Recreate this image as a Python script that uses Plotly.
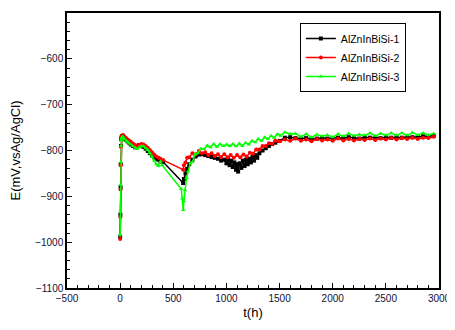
import plotly.graph_objects as go

# ---- data ----
t1 = [0, 2, 4, 6, 8, 10, 14, 18, 24, 30, 40, 55, 70, 85, 100, 120, 140, 160, 180, 200, 220, 240, 260, 280, 300, 320, 340, 360, 380, 405,
      593, 600, 615, 630, 650, 680, 710, 740, 770, 800, 830, 860, 890, 920, 950, 980, 1000, 1015, 1030, 1045, 1060, 1075, 1090, 1100,
      1110, 1125, 1140, 1155, 1170, 1185, 1200, 1215, 1230, 1245, 1260, 1275, 1290, 1310, 1340, 1370, 1400, 1430, 1460, 1500,
      1550, 1600, 1650, 1700, 1750, 1800, 1850, 1900, 1950, 2000, 2050, 2100, 2150, 2200, 2250, 2300, 2350, 2400, 2450, 2500,
      2550, 2600, 2650, 2700, 2750, 2800, 2850, 2900, 2950]
e1 = [-988, -940, -880, -830, -790, -775, -771, -769, -768, -771, -774, -777, -780, -783, -787, -790, -793, -790, -788, -789, -792, -796, -801, -806, -811, -815, -818, -820, -825, -825,
      -871, -862, -850, -840, -830, -820, -813, -809, -808, -810, -812, -814, -816, -818, -822, -820, -828, -818, -832, -822, -836, -826, -842, -830,
      -846, -828, -838, -822, -834, -820, -830, -818, -826, -814, -822, -810, -816, -806, -800, -795, -790, -786, -783, -779,
      -772, -771, -773, -774, -773, -775, -774, -772, -774, -773, -772, -773, -771, -772, -774, -771, -772, -771, -773, -771,
      -772, -771, -772, -770, -771, -770, -769, -769, -768]

t2 = [0, 2, 4, 6, 8, 10, 14, 18, 24, 30, 40, 55, 70, 85, 100, 120, 140, 160, 180, 200, 220, 240, 260, 280, 300, 320, 340, 360, 380, 405,
      593, 600, 615, 630, 650, 680, 710, 740, 770, 800, 830, 860, 890, 920, 950, 980, 1010, 1040, 1070, 1100, 1130, 1160, 1190,
      1220, 1250, 1280, 1310, 1340, 1370, 1400, 1430, 1460, 1500,
      1550, 1600, 1650, 1700, 1750, 1800, 1850, 1900, 1950, 2000, 2050, 2100, 2150, 2200, 2250, 2300, 2350, 2400, 2450, 2500,
      2550, 2600, 2650, 2700, 2750, 2800, 2850, 2900, 2950]
e2 = [-993, -945, -885, -832, -792, -773, -770, -768, -767, -767, -770, -773, -776, -779, -781, -785, -788, -791, -788, -786, -787, -790, -794, -799, -804, -809, -813, -816, -818, -821,
      -842, -832, -826, -816, -815, -806, -808, -801, -806, -804, -810, -806, -812, -808, -814, -808, -815, -810, -816, -810, -815, -809, -813,
      -805, -807, -798, -798, -790, -790, -784, -786, -779, -780,
      -776, -779, -774, -779, -776, -780, -775, -778, -776, -779, -774, -778, -775, -778, -775, -777, -774, -777, -774, -776,
      -773, -776, -773, -775, -772, -775, -772, -773, -770]

t3 = [0, 2, 4, 6, 8, 10, 14, 18, 24, 30, 40, 55, 70, 85, 100, 120, 140, 160, 180, 200, 220, 240, 260, 280, 300, 320, 340, 360, 380, 395,
      575, 585, 593, 600, 610, 625, 640, 660, 680, 705, 730, 760, 790, 820, 850, 880, 910, 940, 970, 1000, 1030, 1060, 1090, 1120,
      1150, 1180, 1210, 1240, 1270, 1300, 1330, 1360, 1390, 1420, 1450, 1480, 1510,
      1550, 1600, 1650, 1700, 1750, 1800, 1850, 1900, 1950, 2000, 2050, 2100, 2150, 2200, 2250, 2300, 2350, 2400, 2450, 2500,
      2550, 2600, 2650, 2700, 2750, 2800, 2850, 2900, 2950]
e3 = [-985, -935, -875, -825, -790, -778, -774, -771, -770, -771, -775, -779, -781, -784, -787, -791, -794, -797, -793, -790, -791, -795, -799, -806, -813, -822, -830, -834, -824, -832,
      -884, -905, -930, -910, -887, -860, -846, -828, -825, -808, -806, -796, -797, -789, -793, -786, -792, -786, -790, -787, -790, -786, -791, -785,
      -790, -783, -787, -779, -782, -775, -779, -771, -775, -768, -772, -764, -768,
      -760, -764, -763, -770, -764, -771, -765, -769, -766, -771, -764, -769, -763, -768, -765, -767, -762, -768, -763, -767,
      -762, -767, -762, -767, -761, -766, -762, -766, -763]

names = ["AlZnInBiSi-1", "AlZnInBiSi-2", "AlZnInBiSi-3"]
colors = ["#000000", "#ff0000", "#00ff00"]
symbols = ["square", "circle", "triangle-up"]
xs = [t1, t2, t3]
ys = [e1, e2, e3]

fig = go.Figure()
for x, y, n, c, s in zip(xs, ys, names, colors, symbols):
    fig.add_trace(go.Scatter(x=x, y=y, name=n, mode="lines+markers",
                             line=dict(color=c, width=1.5),
                             marker=dict(color=c, size=4, symbol=s)))

axis_common = dict(showline=True, linecolor="black", linewidth=1.5, mirror=True,
                   ticks="inside", ticklen=5, tickwidth=1, tickcolor="black",
                   showgrid=False, zeroline=False, automargin=False,
                   tickfont=dict(family="Liberation Sans, Arial", size=10, color="#111133"),
                   minor=dict(ticks="inside", ticklen=3, tickcolor="black"))

fig.update_xaxes(range=[-500, 3000], dtick=500, tick0=-500,
                 title=dict(text="t(h)", font=dict(family="Liberation Sans, Arial", size=13, color="black"), standoff=5),
                 **axis_common)
fig.update_yaxes(range=[-1100, -500], dtick=100, tick0=-1100,
                 title=dict(text="E(mV,vsAg/AgCl)", font=dict(family="Liberation Sans, Arial", size=13, color="black"), standoff=12),
                 **axis_common)

fig.update_layout(width=447, height=322, margin=dict(l=59, r=16, t=5, b=42),
                  plot_bgcolor="white", paper_bgcolor="white",
                  legend=dict(x=0.626, y=0.964, xanchor="left", yanchor="top",
                              bordercolor="black", borderwidth=1, bgcolor="white",
                              font=dict(family="Liberation Sans, Arial", size=10.5, color="black"),
                              tracegroupgap=0, itemwidth=30))

fig.write_html("out.html")
